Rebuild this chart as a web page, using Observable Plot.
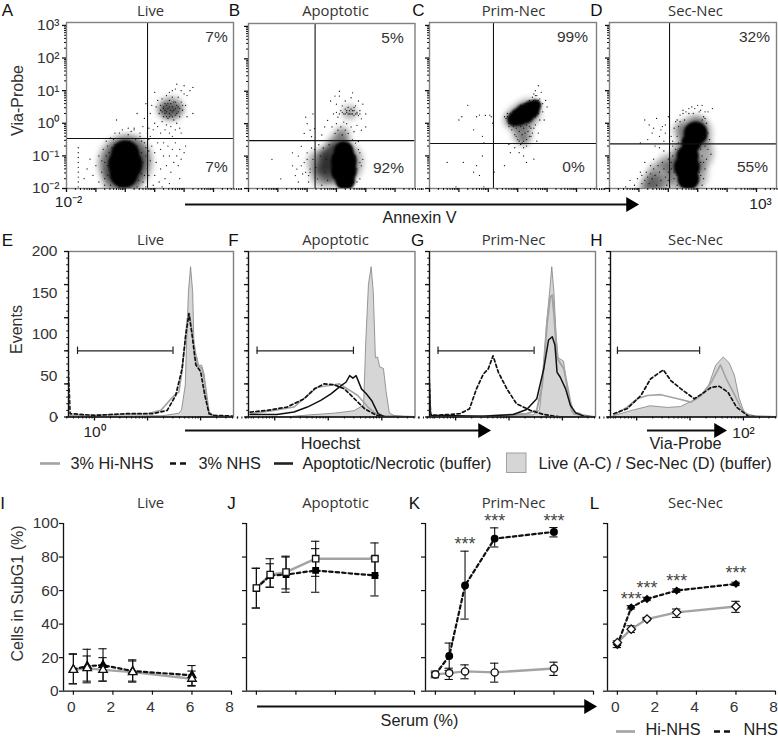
<!DOCTYPE html>
<html><head><meta charset="utf-8">
<style>html,body{margin:0;padding:0;background:#fff}#root{position:relative;width:778px;height:739px;overflow:hidden}svg{position:absolute}</style>
<script src="https://cdn.jsdelivr.net/npm/d3@7"></script>
<script src="https://cdn.jsdelivr.net/npm/@observablehq/plot@0.6"></script>
</head><body><div id="root"></div>
<script>
const SANS='"Liberation Sans",Arial,sans-serif', MYR='"Open Sans","Noto Sans",sans-serif';

// ---- Panels A-D: exponents (log10)
const aCore=[[0,-.95,14],[0,-1.25,17],[-.05,-1.55,14]];
const aHalo=[[0,-1.2,27],[-.05,-1.3,23],[.1,-1.0,21],[-.1,-1.7,20],[1.55,.45,12],[1.5,.4,9],[1.3,.42,6],[1.78,.42,6]];
const aSpeck=[[1,.95],[1.1,.7],[.9,.55],[.85,.3],[1.05,.5],[1.15,.3],[1.2,.55],[1.25,.75],[1.3,.45],[1.3,.2],[1.35,.6],[1.4,.85],[1.4,.35],[1.45,.15],[1.5,.7],[1.5,.95],[1.55,.25],[1.6,.8],[1.65,.1],[1.7,.65],[1.75,.3],[1.8,.5],[1.8,.8],[1.85,.2],[1.9,.65],[1.95,.4],[2,.9],[2.05,.55],[2.1,.2],[1.7,1.05],[1.9,1],[2.1,.85],[2.2,1],[2.3,1.1],[1.75,1.2],[2,1.15],[1.6,1],[2.3,.3],[1,0],[1.1,-.1],[1.2,-.3],[1.25,.05],[1.35,-.2],[1.4,-.05],[1.5,-.3],[1.55,-.1],[1.6,-.4],[1.7,-.2],[1.75,0],[1.85,-.15],[1.9,-.3],[.95,-.2],[.85,-.4],[.6,-.1],[.5,-.3],[.3,-.2],[.1,-.15],[.65,.15],[.4,.3],[.7,.6],[.9,-.7],[1,-.9],[1.1,-.6],[1.05,-1.2],[1.2,-.8],[1.2,-1.4],[1.3,-.6],[1.3,-1],[1.35,-1.7],[1.4,-1.3],[1.45,-.7],[1.5,-1],[1.55,-1.5],[1.6,-.8],[1.65,-1.2],[1.7,-.6],[1.75,-1],[1.8,-1.3],[1.85,-.8],[1.9,-1.1],[2,-.9],[2.05,-.7],[1,-1.6],[1.15,-1.8],[1.5,-1.85],[1.85,-1.7],[.95,-1.9],[1.25,-1.95],[-.7,-1.2],[-.8,-1.5],[-.9,-1],[-1,-1.3],[-1.1,-1.6],[-1.2,-1.1],[-1.3,-1.4],[-1.4,-1.7],[-.6,-.7],[-.7,-1.9],[-.9,-1.8],[-.5,-1.9],[-1.6,-.75],[-1.6,-.9],[-1.6,-1.05],[-1.6,-1.2],[-1.6,-1.35],[-1.6,-1.5],[-1.6,-1.65],[-1.6,-1.8],[-1.6,-1.95],[-.55,-.9],[-.6,-1.6],[.65,-.6],[.7,-1],[.75,-1.4],[.6,-1.8],[.5,-.4],[-.4,-.5],[-.2,-.3],[.2,-.25],[.1,-.35],[.8,-.15],[.75,-.3],[-.3,.1],[-.75,-.8],[-.8,-1.15],[-.7,-1.7],[-.65,-.55],[-.5,-.45],[-.35,-.3],[-.1,-.2],[.3,-.15],[.55,-.55],[.8,-.85],[.85,-1.15],[.8,-1.6],[.7,-1.95],[.4,-1.95],[.15,-1.98],[-.2,-1.97],[-.45,-1.7],[-.6,-1.3],[-.65,-1],[-.45,-.75],[-.55,-1.15],[-.55,-1.45],[.55,-.9],[.6,-1.2],[.55,-1.55],[.45,-1.75],[.35,-.5],[.15,-.55],[-.15,-.6],[-.35,-.65],[.4,-.7],[.7,-.75],[.8,-.5],[.65,-1.6],[1.3,.5],[1.35,.4],[1.4,.55],[1.45,.45],[1.5,.3],[1.5,.5],[1.55,.4],[1.55,.6],[1.6,.35],[1.6,.5],[1.65,.4],[1.65,.65],[1.7,.45],[1.75,.55],[1.45,.6],[1.35,.3],[1.25,.35],[1.2,.4],[1.8,.35],[1.7,.25],[1.5,.2],[1.4,.2],[1.6,.2],[1.85,.45],[1.95,.55]];

const bCore=[[1.25,-.85,10],[1.25,-1.15,13],[1.25,-1.45,13],[1.3,-1.75,10]];
const bHalo=[[1.15,-1.2,22],[.95,-1.3,20],[.95,-1.0,15],[.45,-1.2,13],[.5,-1.6,11],[1.1,-.6,11],[1.45,.35,7],[1.2,-.3,7]];
const bSpeck=[[.8,.7],[.9,.3],[1,.6],[1.05,.2],[1.1,.85],[1.15,.4],[1.2,.55],[1.25,.3],[1.3,.7],[1.35,.35],[1.4,.5],[1.45,.3],[1.5,.8],[1.55,.4],[1.6,.25],[1.65,.55],[1.7,.35],[1.75,.7],[1.8,.4],[1.85,.15],[1.9,.6],[2,.3],[1.1,1],[.95,.85],[1.55,.95],[.85,-.1],[.95,-.3],[1,0],[1.05,-.2],[1.15,-.1],[1.2,-.35],[1.25,.05],[1.3,-.2],[1.35,0],[1.4,-.3],[1.5,-.1],[1.6,-.25],[1.7,-.05],[1.85,-.2],[2,-.1],[-.05,.2],[0,0],[.1,-.2],[-.1,-.3],[.2,.3],[.15,-.4],[.25,-.15],[.5,-.35],[.6,-.1],[.7,.1],[-.5,-.9],[-.5,-1.3],[-.4,-1.6],[-.3,-1],[-.3,-1.8],[-1.2,-1.1],[-.9,-1.7],[-.2,-.7],[-.1,-1.2],[-.15,-1.55],[0,-.9],[.05,-1.8],[.1,-1.4],[1.8,-.9],[1.85,-1.3],[1.8,-1.7],[1.9,-1.1],[1.2,.35],[1.3,.3],[1.35,.4],[1.4,.3],[1.45,.4],[1.5,.3],[1.55,.3],[1.6,.4],[1.65,.3],[1.7,.3],[1.75,.25],[1.8,.3],[1.5,.45],[1.6,.5],[1.3,.45],[1.1,.3],[1,.35],[.1,-1.5],[.2,-1.1],[.25,-.8],[.3,-1.35],[.35,-1.7],[.4,-.65],[.45,-1],[.5,-1.9],[.55,-.75],[.6,-1.5],[.65,-1.1],[.7,-1.75],[.75,-.65],[.8,-1.3],[0,-1.1],[.05,-1.6],[.15,-.75],[-.05,-1.5],[-.2,-1.3],[-.35,-1.4],[1.65,-1],[1.7,-1.4],[1.75,-.8],[1.7,-1.8],[1.65,-.6],[1.55,-.5],[1.75,-.55],[1.8,-1.2]];

const cCore=[[.88,.12,7],[1.05,.2,9],[1.25,.3,10],[1.45,.42,9],[1.6,.55,6]];
const cHalo=[[1.1,.15,14],[1.35,.35,13],[.8,.1,8],[1.15,-.3,10],[1.2,-.5,6]];
const cSpeck=[[.55,.2],[.6,.15],[.65,.3],[.7,0],[.75,.3],[.8,-.2],[.85,.35],[.9,-.35],[1,.45],[1,-.5],[1.1,.55],[1.1,-.65],[1.2,-.55],[1.25,.6],[1.3,-.7],[1.4,-.1],[1.45,-.4],[1.5,.8],[1.55,.9],[1.6,1],[1.65,.85],[1.7,1.15],[1.75,.75],[1.8,.95],[1.85,.6],[1.85,.35],[1.9,.1],[1.95,.7],[2,.5],[1.7,-.3],[1.6,-.05],[1.75,.1],[1.65,-.55],[.9,-.75],[1.05,-.9],[1.2,-1],[1.3,-1.2],[.7,-.65],[.75,-.9],[1.55,-1.1],[.15,0],[.05,.25],[.1,.2],[-.4,.2],[-.3,.25],[-.1,.24],[-1,.1],[-.7,.55],[-.5,-.2],[-.9,.2],[-.2,-.4],[-.15,-.6],[-1.4,-1.2],[-.85,-1.2],[-.4,-1.3],[-.3,-1.6],[-.2,-1],[-.5,-1.5],[-.15,-1.95],[-1.1,-1.95],[.2,-1.5],[.55,-1.3],[.7,-.1],[.8,0],[.85,-.1],[.95,-.15],[1,-.05],[1.05,-.25],[1.1,-.1],[1.15,-.35],[1.2,-.15],[1.25,-.3],[1.3,-.05],[1.35,-.25],[1.4,-.4],[1.45,-.15],[1.5,-.3],[1.55,-.15],[.95,-.4],[1.05,-.55],[1.15,-.6],[1.3,-.5],[1.2,-.75],[1.6,.2],[1.7,.3],[1.7,.45],[1.75,.6],[1.55,.7],[1.4,.7],[1.3,.55],[1.15,.5],[1,.35],[.75,.1],[.65,.2],[1.7,.7],[1.6,.85]];

const dCore=[[.93,-.31,12],[.78,-.6,10],[.66,-1,11],[.63,-1.35,13],[.68,-1.7,11]];
const dHalo=[[.85,-.9,20],[.9,-.3,17],[.65,-1.55,20],[.5,-1.1,13],[.45,-.2,8],[1,-.05,9],[-.5,-1.85,11],[-.25,-1.6,14],[-.7,-1.95,8],[-.05,-1.2,8]];
const dSpeck=[[.3,.1],[.4,.25],[.5,.3],[.6,.35],[.7,.45],[.8,.5],[.9,.45],[1,.55],[1.1,.4],[1.15,.55],[1.2,.2],[1.25,.35],[1.3,0],[1.35,.35],[1.35,-.3],[1.4,-.5],[1.35,-.8],[1.3,-1.1],[1.25,-1.4],[1.2,-1.7],[1.15,-1.9],[1.45,-.95],[1.5,.45],[1.1,-1.2],[1.05,-1.5],[0,.2],[-.1,-.05],[-.25,-.2],[-.4,.15],[-.55,-.3],[-.65,-.05],[-.7,-.5],[-.8,.1],[-.15,-.55],[-.3,-.75],[.1,-.4],[.2,-.15],[.15,-.7],[-.15,-.85],[-.5,-1.1],[-.6,-1.3],[-.8,-1.2],[-.95,-1.5],[-1.05,-1.7],[-1.15,-1.9],[-1.3,-1.75],[-1.45,-1.95],[-.9,-1.85],[0,-1.75],[.1,-1.4],[.15,-1],[.05,-1.95],[.3,-1.9],[.25,-1.35],[.2,-1.7],[-.45,-.7],[-.95,-.6],[-.1,-.3],[.5,.4],[-.9,-1.6],[-.8,-1.75],[-.75,-1.5],[-.7,-1.65],[-.65,-1.85],[-.6,-1.55],[-.55,-1.7],[-.5,-1.4],[-.45,-1.6],[-.4,-1.9],[-.35,-1.3],[-.3,-1.5],[-.25,-1.75],[-.2,-1.2],[-.15,-1.4],[-.1,-1.65],[-.05,-1.9],[0,-1.1],[0,-1.5],[.05,-.9],[.1,-1.2],[.15,-.55],[.2,-1.5],[.25,-.8],[.3,-.4],[.35,-1.1],[.35,-.6],[.3,-1.6],[1.2,-.4],[1.25,-.7],[1.15,-1],[1.2,-1.2],[1.1,-1.6],[1.1,-.8],[1.15,.1],[1.05,.35],[1.25,.15],[.85,.3],[.7,.3],[.55,.1],[.4,.05],[.25,.05],[.35,-.1],[-.2,-.1],[-.5,-.15],[-.3,-.4]];

// Quadrant gates (values on the axes)
const gateX={a:5.7,b:1.87,c:1.5,d:1.1};
const gateY={a:.34,b:.30,c:.24,d:.234};
const percentLabels=["7%","7%","5%","92%","99%","0%","32%","55%"];

// ---- Panels E-H: [log10 intensity, events]
const liveFill=[[-.49,0],[1.3,1],[1.6,4],[1.65,8],[1.72,38],[1.75,99],[1.78,151],[1.82,181],[1.86,151],[1.89,71],[1.94,72],[1.97,62],[2.03,62],[2.08,50],[2.13,14],[2.19,2],[2.62,0]];
const eHi=[[-.49,2],[0,2],[.5,3],[1,4],[1.25,8],[1.5,26],[1.59,30],[1.65,55],[1.75,119],[1.79,125],[1.86,95],[1.94,63],[2.03,58],[2.09,38],[2.16,6],[2.25,1],[2.62,0]];
const eNhs=[[-.49,55],[-.46,4],[0,2],[.3,3],[.6,4],[1.1,4],[1.37,8],[1.53,26],[1.65,58],[1.72,99],[1.78,125],[1.84,99],[1.91,63],[2,55],[2.08,26],[2.16,4],[2.25,2],[2.62,1]];
const fFill=[[-.49,0],[.3,0],[.67,2],[1.11,4],[1.49,7],[1.67,14],[1.71,91],[1.76,160],[1.81,181],[1.85,151],[1.89,71],[1.93,72],[1.97,60],[2.04,58],[2.09,30],[2.15,4],[2.25,1],[2.62,0]];
const fHi=[[-.46,4],[-.02,8],[.36,12],[.61,26],[.8,36],[1.02,38],[1.21,40],[1.36,34],[1.55,26],[1.74,12],[1.93,2],[2.06,0]];
const fNhs=[[-.46,6],[-.14,8],[.23,12],[.55,22],[.74,34],[.92,40],[1.11,39],[1.3,34],[1.49,22],[1.68,10],[1.9,2],[2.1,0]];
const fBuf=[[-.46,3],[.04,3],[.36,6],[.61,12],[.86,20],[1.05,28],[1.24,38],[1.33,42],[1.4,50],[1.46,47],[1.52,50],[1.62,34],[1.71,28],[1.81,20],[1.93,4],[2.03,1],[2.62,0]];
const gFill=[[-.5,0],[.52,1],[1.46,2],[1.58,8],[1.65,50],[1.71,111],[1.77,151],[1.81,181],[1.85,151],[1.89,99],[1.93,71],[2.03,67],[2.08,42],[2.13,22],[2.18,6],[2.34,4],[2.43,0],[2.6,0]];
const gHi=[[.52,1],[1.33,4],[1.52,8],[1.62,38],[1.71,111],[1.77,145],[1.81,147],[1.85,119],[1.9,71],[2.03,58],[2.09,38],[2.15,18],[2.21,4],[2.4,2],[2.6,0]];
const gBuf=[[-.5,55],[-.47,2],[.5,1],[1.08,3],[1.33,9],[1.52,22],[1.65,58],[1.74,93],[1.81,97],[1.86,87],[1.9,54],[1.96,48],[2.06,34],[2.15,14],[2.25,5],[2.4,1],[2.6,0]];
const gNhs=[[-.5,55],[-.47,3],[-.36,2],[.08,4],[.26,10],[.39,34],[.52,52],[.61,58],[.7,74],[.8,54],[.96,34],[1.14,16],[1.4,8],[1.65,3],[1.96,0],[2.6,0]];
const hFill=[[-.43,1],[-.05,8],[.26,13],[.58,11],[.83,12],[1.02,18],[1.21,26],[1.36,38],[1.49,62],[1.63,72],[1.74,65],[1.84,50],[1.93,22],[2.03,4],[2.21,1],[2.62,0]];
const hHi=[[-.43,2],[-.18,12],[.01,22],[.2,26],[.45,27],[.77,22],[1.02,18],[1.21,26],[1.4,42],[1.57,63],[1.68,46],[1.84,26],[1.96,10],[2.09,2],[2.31,0]];
const hNhs=[[-.43,4],[-.18,10],[.08,26],[.26,46],[.5,57],[.64,44],[.83,34],[1.08,22],[1.27,30],[1.4,36],[1.55,37],[1.71,30],[1.87,12],[2.09,1],[2.34,0]];
const histTickLabels=[0,50,100,150,200];

// ---- Panels I-L: serum %, cells in SubG1 %, error bar low/high
const serum=[0,.7,1.5,3,6];
const iHi=[12.7,13.7,12.7,11.4,7.4], iHiLo=[4.4,5,6,5.4,3], iHiHi=[22.3,25,20,18,12];
const iNhs=[13,15,15.5,12,9.5], iNhsLo=[4.4,6,6,6,3.4], iNhsHi=[22,21,25.3,18.7,15.3];
const jHi=[61.5,69.5,71,79,79], jHiLo=[49.6,62,61,68.5,69], jHiHi=[73.3,79,80.5,89.4,88.4];
const jNhs=[61.5,69,69.5,72,69], jNhsLo=[49.6,62,59,59,56.8], jNhsHi=[73.3,76,80,85,80];
const kHi=[10,10.8,11.8,11.2,13.5], kHiLo=[8,7,7.4,5.4,9.4], kHiHi=[12,13.7,15.7,16.7,17.3];
const kNhs=[10,21,63,91,95], kNhsLo=[9,12.4,43,86,92], kNhsHi=[11,28.7,83.5,97.4,97.6];
const lHi=[29,37,43,47,50.5], lHiLo=[28,35,42,44,47], lHiHi=[30,39,44,49,53.6];
const lNhs=[27.5,50,55,60,64], lNhsLo=[26,49,54,59,63], lNhsHi=[29,51,56,61,65];
const kStars=[[1.5,90],[3,103.6],[6,104]];
const lStars=[[.7,57],[1.5,63.5],[3,67.7],[6,72.5]];

const root=document.getElementById("root");
function place(svg,left,top){svg.style.left=left+"px";svg.style.top=top+"px";svg.style.background="transparent";svg.style.overflow="visible";svg.style.maxWidth="none";root.appendChild(svg);}
const decades=(a,b)=>d3.range(a,b+1).map(d=>10**d);
const minors=(a,b)=>d3.range(a,b+1).flatMap(d=>d3.range(2,10).map(k=>k*10**d));
const none=()=>"";
const sup={"-2":"⁻²","-1":"⁻¹","0":"⁰","1":"¹","2":"²","3":"³"};
const M={l:48,r:3,t:4,b:12};

// Scatter panels
function scatter(g,core,halo,speck,gx,gy,labelled){
  const w=g.r-g.l,h=g.b-g.t;
  const xy={x:d=>10**d[0],y:d=>10**d[1]};
  const svg=Plot.plot({width:w+M.l+M.r,height:h+M.t+M.b,marginLeft:M.l,marginRight:M.r,marginTop:M.t,marginBottom:M.b,
    style:{background:"transparent",fontFamily:SANS},
    x:{type:"log",domain:[.01,10**3.68],axis:null,label:null},
    y:{type:"log",domain:[.01,10**3.09],axis:null,label:null},
    r:{type:"identity"},
    marks:[
      Plot.dot(halo,{...xy,r:d=>d[2],fill:"#000",fillOpacity:.34,stroke:"none",clip:true,imageFilter:"blur(3px)"}),
      Plot.dot(core,{...xy,r:d=>d[2],fill:"#000",stroke:"none",clip:true,imageFilter:"blur(1px)"}),
      Plot.dot(speck,{...xy,r:.65,fill:"#111",stroke:"none",clip:true}),
      Plot.ruleX([gx],{stroke:"#111",strokeWidth:1.1}),
      Plot.ruleY([gy],{stroke:"#111",strokeWidth:1.1}),
      Plot.frame({stroke:"#808080",strokeWidth:1.4}),
      Plot.axisX({ticks:minors(-2,3),tickSize:2,tickFormat:none,stroke:"#111"}),
      Plot.axisX({ticks:decades(-2,3),tickSize:4,tickFormat:none,stroke:"#111",strokeWidth:1.3}),
      Plot.axisY({ticks:minors(-2,2),tickSize:2,tickFormat:none,stroke:"#111"}),
      Plot.axisY({ticks:decades(-2,3),tickSize:4,tickPadding:3,stroke:"#111",strokeWidth:1.3,fontSize:15.5,fill:"#333",
        tickFormat:labelled?(d=>"10"+sup[Math.round(Math.log10(d))]):none})
    ]});
  place(svg,g.l-M.l,g.t-M.t);
}
const scGeom={a:{l:66,r:233,t:22,b:188},b:{l:247.5,r:414,t:23,b:188},c:{l:429,r:596,t:22,b:188},d:{l:609,r:776,t:22,b:188}};
scatter(scGeom.a,aCore,aHalo,aSpeck,gateX.a,gateY.a,true);
scatter(scGeom.b,bCore,bHalo,bSpeck,gateX.b,gateY.b,false);
scatter(scGeom.c,cCore,cHalo,cSpeck,gateX.c,gateY.c,false);
scatter(scGeom.d,dCore,dHalo,dSpeck,gateX.d,gateY.d,false);

// Histogram panels
function hist(g,fill,lines,gate,labelled){
  const w=g.r-g.l,h=g.b-g.t;
  const X=d=>10**d[0],Y=d=>d[1];
  const line=(data,o)=>Plot.line(data,{x:X,y:Y,clip:true,strokeLinejoin:"round",...o});
  const svg=Plot.plot({width:w+M.l+M.r,height:h+M.t+M.b,marginLeft:M.l,marginRight:M.r,marginTop:M.t,marginBottom:M.b,
    style:{background:"transparent",fontFamily:SANS},
    x:{type:"log",domain:[10**-.49,10**2.62],axis:null,label:null},
    y:{domain:[0,200],axis:null,label:null},
    marks:[
      Plot.areaY(fill,{x:X,y:Y,fill:"#d6d6d6",stroke:"#808080",strokeWidth:.8,clip:true}),
      ...lines.map(([data,o])=>line(data,o)),
      Plot.ruleY([80],{x1:10**gate[0],x2:10**gate[1],stroke:"#222",strokeWidth:1.2}),
      Plot.ruleX(gate,{x:d=>10**d,y1:75.5,y2:84.5,stroke:"#222",strokeWidth:1.2}),
      Plot.frame({stroke:"#808080",strokeWidth:1.4}),
      Plot.axisX({ticks:minors(-1,2),tickSize:2,tickFormat:none,stroke:"#111"}),
      Plot.axisX({ticks:decades(0,2),tickSize:4,tickFormat:none,stroke:"#111",strokeWidth:1.3}),
      Plot.axisY({ticks:d3.range(0,201,8),tickSize:1.8,tickFormat:none,stroke:"#111"}),
      Plot.axisY({ticks:d3.range(0,201,40),tickSize:4,tickFormat:none,stroke:"#111",strokeWidth:1.3}),
      Plot.ruleX([10**-.49],{y1:0,y2:200,stroke:"#111",strokeWidth:1.2}),
      Plot.ruleY([0],{stroke:"#111",strokeWidth:1.3}),
      labelled?Plot.text(histTickLabels,{x:()=>10**-.49,y:d=>d,text:d=>String(d),dx:-11,textAnchor:"end",fontSize:15.5,fill:"#333"}):null
    ]});
  place(svg,g.l-M.l,g.t-M.t);
}
const HI={stroke:"#a3a3a3",strokeWidth:1.6}, NH={stroke:"#111",strokeWidth:1.7,strokeDasharray:"3.2,2.6"}, BF={stroke:"#111",strokeWidth:1.5};
hist({l:68,r:233,t:251,b:416.5},liveFill,[[eHi,HI],[eNhs,NH]],[-.32,1.48],true);
hist({l:247.5,r:414,t:251,b:416.5},fFill,[[fHi,HI],[fNhs,NH],[fBuf,BF]],[-.33,1.47],false);
hist({l:429,r:595,t:251,b:416.5},gFill,[[gHi,{...HI,strokeWidth:2}],[gBuf,BF],[gNhs,NH]],[-.33,1.47],false);
hist({l:610,r:776,t:251,b:416.5},hFill,[[hHi,HI],[hNhs,NH]],[-.36,1.18],false);

// SubG1 panels
function sub(l,hi,hiLo,hiHi,nh,nhLo,nhHi,sym,rHi,rNh,stars,labX,labY){
  const h=167.7,w=168;
  const rows=(v,lo,up)=>serum.map((s,i)=>({s,v:v[i],lo:lo[i],up:up[i]}));
  const A=rows(hi,hiLo,hiHi),B=rows(nh,nhLo,nhHi);
  const err=(D)=>[
    Plot.ruleX(D,{x:"s",y1:"lo",y2:"up",stroke:"#111",strokeWidth:1.1}),
    Plot.ruleY(D,{y:"lo",x1:d=>d.s-.21,x2:d=>d.s+.21,stroke:"#111",strokeWidth:1.1}),
    Plot.ruleY(D,{y:"up",x1:d=>d.s-.21,x2:d=>d.s+.21,stroke:"#111",strokeWidth:1.1})];
  const svg=Plot.plot({width:w+M.l+M.r+8,height:h+30+22,marginLeft:M.l,marginRight:M.r+8,marginTop:30,marginBottom:22,
    style:{background:"transparent",fontFamily:SANS},
    x:{domain:[-.5,8],axis:null,label:null},
    y:{domain:[0,100],axis:null,label:null},
    marks:[
      ...err(B),...err(A),
      Plot.line(A,{x:"s",y:"v",stroke:"#a3a3a3",strokeWidth:2.4}),
      Plot.line(B,{x:"s",y:"v",stroke:"#111",strokeWidth:2.2,strokeDasharray:"3.5,3"}),
      Plot.dot(B,{x:"s",y:"v",symbol:sym,r:rNh,fill:"#000",stroke:"#000"}),
      Plot.dot(A,{x:"s",y:"v",symbol:sym,r:rHi,fill:"#fff",stroke:"#111",strokeWidth:1.3}),
      Plot.ruleX([-.5],{y1:0,y2:100,stroke:"#111",strokeWidth:1.3}),
      Plot.ruleY([0],{x1:-.5,x2:8,stroke:"#111",strokeWidth:1.3}),
      Plot.axisX({ticks:d3.range(0,9,2),tickSize:4,stroke:"#111",strokeWidth:1.2,tickFormat:none}),
      labX?Plot.axisX({ticks:d3.range(0,9,2),tickSize:0,stroke:"none",fontSize:15.5,fill:"#333",tickPadding:10,dx:-2,tickFormat:d=>d}):null,
      Plot.axisY({ticks:d3.range(0,101,20),tickSize:4,stroke:"#111",strokeWidth:1.2,fontSize:15.5,fill:"#333",tickPadding:1,tickFormat:labY?(d=>d):none}),
      stars?Plot.text(stars,{x:d=>d[0],y:d=>d[1],text:()=>"***",fontSize:18,dy:4,fill:"#444",lineAnchor:"middle"}):null
    ]});
  place(svg,l-M.l,523-30);
}
sub(63.2,iHi,iHiLo,iHiHi,iNhs,iNhsLo,iNhsHi,"triangle",3.2,2.8,null,true,true);
sub(246,jHi,jHiLo,jHiHi,jNhs,jNhsLo,jNhsHi,"square",3.6,3,null,false,false);
sub(425,kHi,kHiLo,kHiHi,kNhs,kNhsLo,kNhsHi,"circle",3.6,3.2,kStars,false,false);
sub(607,lHi,lHiLo,lHiHi,lNhs,lNhsLo,lNhsHi,"diamond2",3.8,2.8,lStars,true,false);

// Annotation layer: titles, panel letters, arrows, legends
const titles=["Live","Apoptotic","Prim-Nec","Sec-Nec"];
const letters=["A","B","C","D","E","F","G","H","I","J","K","L"];
const tx=[150,335,513,695], ty=[11,240,503];
const lx=[7,234,418,596,7,233,417,596,2,231,414,594], ly=[10,10,10,10,240,240,240,240,503,503,503,503];
const T=[], P=[], A=[], R=[];
ty.forEach(y=>titles.forEach((t,i)=>T.push({x:tx[i],y,t})));
const Ltr=letters.map((t,i)=>({x:lx[i],y:ly[i],t}));
[[216,37],[216,167],[392,38],[388,168],[572,37],[573,167],[754,37],[752,167]].forEach((p,i)=>P.push({x:p[0],y:p[1],t:percentLabels[i]}));
[[68,202,"10⁻²"],[760,204,"10³"],[94,432,"10⁰"],[743,433,"10²"]].forEach(p=>A.push({x:p[0],y:p[1],t:p[2]}));
[[419,217,"Annexin V"],[330,443,"Hoechst"],[685,443,"Via-Probe"],[419,720,"Serum (%)"]].forEach(p=>A.push({x:p[0],y:p[1],t:p[2],big:1}));
[[17,100,"Via-Probe"],[16,329,"Events"],[17,593,"Cells in SubG1 (%)"]].forEach(p=>R.push({x:p[0],y:p[1],t:p[2]}));
const L=[[70,463,"3% Hi-NHS"],[198,463,"3% NHS"],[302,463,"Apoptotic/Necrotic (buffer)"],[538,463,"Live (A-C) / Sec-Nec (D) (buffer)"],[645,729,"Hi-NHS"],[743,729,"NHS"]];
const arrows=[[185,204,628],[185,430,480],[647,430,716],[257,706,586]];
const solidKeys=[[40,60,463,"#a3a3a3"],[274,293,463,"#222"],[616,635,731,"#a3a3a3"]];
const dashKeys=[[170,189,463],[714,730,731]];
const txt={x:"x",y:"y",text:"t",lineAnchor:"middle"};
const overlay=Plot.plot({width:778,height:739,margin:0,style:{background:"transparent"},
  x:{domain:[0,778],axis:null,label:null},y:{domain:[739,0],axis:null,label:null},
  marks:[
    Plot.text(T,{...txt,fontSize:14.8,fill:"#333",fontFamily:MYR}),
    Plot.text(Ltr,{...txt,fontSize:17,fill:"#111",fontFamily:SANS}),
    Plot.text(P,{...txt,fontSize:15.5,fill:"#333",fontFamily:SANS}),
    Plot.text(A,{...txt,fontSize:d=>d.big?16.3:15.5,fill:"#222",fontFamily:SANS}),
    Plot.text(R,{...txt,rotate:-90,fontSize:16,fill:"#333",fontFamily:SANS}),
    Plot.text(L,{x:d=>d[0],y:d=>d[1],text:d=>d[2],fontSize:16.3,fill:"#222",fontFamily:SANS,textAnchor:"start",lineAnchor:"middle"}),
    Plot.ruleY(arrows,{y:d=>d[1],x1:d=>d[0],x2:d=>d[2],stroke:"#111",strokeWidth:1.8}),
    Plot.dot(arrows,{x:d=>d[2]+2,y:d=>d[1],symbol:"triangle",r:5.5,rotate:90,fill:"#000",stroke:"none"}),
    Plot.ruleY(solidKeys,{y:d=>d[2],x1:d=>d[0],x2:d=>d[1],stroke:d=>d[3],strokeWidth:2.6}),
    Plot.ruleY(dashKeys,{y:d=>d[2],x1:d=>d[0],x2:d=>d[1],stroke:"#111",strokeWidth:2.4,strokeDasharray:"6,4"}),
    Plot.rect([0],{x1:()=>506.5,x2:()=>526,y1:()=>453,y2:()=>472.5,fill:"#d6d6d6",stroke:"#a0a0a0"})
  ]});
place(overlay,0,0);
</script></body></html>
